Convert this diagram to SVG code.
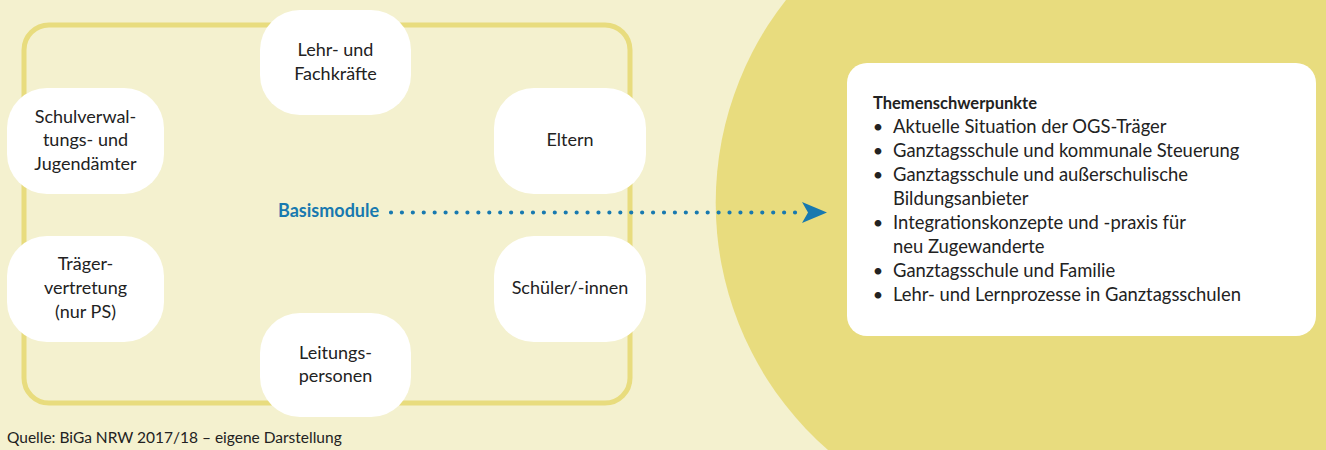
<svg xmlns="http://www.w3.org/2000/svg" width="1326" height="450" viewBox="0 0 1326 450">
<style>
.node rect{fill:#ffffff}
.t{font-family:Lato,"Liberation Sans",sans-serif;font-size:18px;fill:#222222}
.c{text-anchor:middle}
.b{font-weight:bold}
.blue{fill:#1879AF}
.li{font-size:18.4px}
</style>
<rect x="0" y="0" width="1326" height="450" fill="#F4F1CF"/>
<path d="M786,0 A328,328 0 0 0 828,450 L1326,450 L1326,0 Z" fill="#E8DC7E"/>
<rect id="frame" x="24" y="25" width="606" height="378" rx="25" fill="none" stroke="#E8DC7E" stroke-width="5"/>

<g id="n-lehr" class="node"><rect x="260" y="10" width="151" height="105" rx="40"/>
<text class="t c" x="335.5" y="56">Lehr- und</text><text class="t c" x="335.5" y="80">Fachkräfte</text></g>

<g id="n-schulverwaltung" class="node"><rect x="7" y="88" width="157" height="106" rx="40"/>
<text class="t c" x="85.5" y="122.5">Schulverwal-</text><text class="t c" x="85.5" y="146">tungs- und</text><text class="t c" x="85.5" y="169.5">Jugendämter</text></g>

<g id="n-eltern" class="node"><rect x="494" y="88" width="152" height="106" rx="40"/>
<text class="t c" x="570" y="145.5">Eltern</text></g>

<g id="n-traeger" class="node"><rect x="7" y="236" width="157" height="106" rx="40"/>
<text class="t c" x="85.5" y="270">Träger-</text><text class="t c" x="85.5" y="294">vertretung</text><text class="t c" x="85.5" y="318">(nur PS)</text></g>

<g id="n-schueler" class="node"><rect x="494" y="236" width="152" height="106" rx="40"/>
<text class="t c" x="570" y="294">Schüler/-innen</text></g>

<g id="n-leitung" class="node"><rect x="260" y="313" width="151" height="104" rx="40"/>
<text class="t c" x="335.5" y="358.5">Leitungs-</text><text class="t c" x="335.5" y="382">personen</text></g>

<g id="n-basis"><text class="t b blue" x="278" y="217" style="font-size:18px">Basismodule</text></g>

<g id="connectors">
<line x1="391" y1="212.5" x2="796" y2="212.5" stroke="#1879AF" stroke-width="4.2" stroke-linecap="round" stroke-dasharray="0 10.92"/>
<polygon points="827,212.5 802,202 808,212.5 802,223" fill="#1879AF"/>
</g>

<g id="n-themen"><rect x="847" y="63" width="469" height="273" rx="20" fill="#ffffff"/>
<text class="t b" x="873" y="108.5" style="font-size:16.5px">Themenschwerpunkte</text>
<text x="878" y="132.5" class="t c">•</text><text x="893" y="132.5" class="t li">Aktuelle Situation der OGS-Träger</text>
<text x="878" y="156.5" class="t c">•</text><text x="893" y="156.5" class="t li">Ganztagsschule und kommunale Steuerung</text>
<text x="878" y="180.5" class="t c">•</text><text x="893" y="180.5" class="t li">Ganztagsschule und außerschulische</text>
<text x="893" y="204.5" class="t li">Bildungsanbieter</text>
<text x="878" y="228.5" class="t c">•</text><text x="893" y="228.5" class="t li">Integrationskonzepte und -praxis für</text>
<text x="893" y="252.5" class="t li">neu Zugewanderte</text>
<text x="878" y="276.5" class="t c">•</text><text x="893" y="276.5" class="t li">Ganztagsschule und Familie</text>
<text x="878" y="300.5" class="t c">•</text><text x="893" y="300.5" class="t li">Lehr- und Lernprozesse in Ganztagsschulen</text>
</g>

<text class="t" x="7" y="443" style="font-size:15.5px">Quelle: BiGa NRW 2017/18 – eigene Darstellung</text>
</svg>
